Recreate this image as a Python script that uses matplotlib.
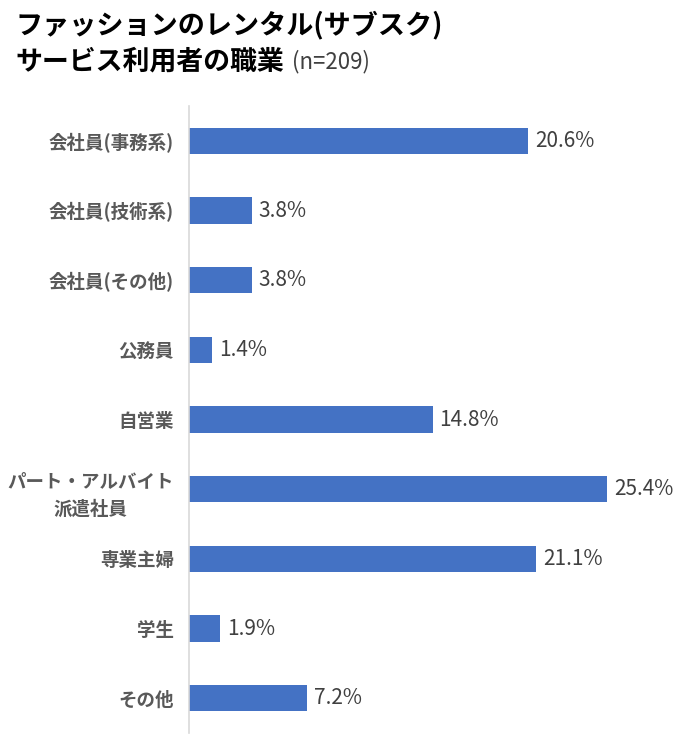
import matplotlib.pyplot as plt

plt.rcParams['font.family'] = ['Noto Sans CJK JP', 'DejaVu Sans']

# data
categories = ['会社員(事務系)', '会社員(技術系)', '会社員(その他)', '公務員', '自営業',
              'パート・アルバイト\n派遣社員', '専業主婦', '学生', 'その他']
shares = [20.6, 3.8, 3.8, 1.4, 14.8, 25.4, 21.1, 1.9, 7.2]
value_labels = ['20.6%', '3.8%', '3.8%', '1.4%', '14.8%', '25.4%', '21.1%', '1.9%', '7.2%']

fig = plt.figure(figsize=(7.0, 7.47), dpi=100)
ax = fig.add_axes([0.27, 0.0187, 0.73, 0.8394])

pos = list(range(len(categories)))
bars = ax.barh(pos, shares, height=0.38, color='#4472C4')
ax.set_ylim(len(categories) - 0.5, -0.5)
ax.set_xlim(0, 31.05)

for b, lab in zip(bars, value_labels):
    ax.annotate(lab, xy=(b.get_width(), b.get_y() + b.get_height() / 2),
                xytext=(5, 0), textcoords='offset points', va='center', ha='left',
                fontsize=15, color='#404040')

ax.set_yticks(pos)
ax.set_yticklabels(categories, fontsize=13.3, fontweight='bold', color='#595959')
for t in ax.get_yticklabels():
    t.set_multialignment('center')
    t.set_linespacing(1.55)
ax.tick_params(axis='y', length=0, pad=11)
ax.set_xticks([])
for s in ['top', 'right', 'bottom']:
    ax.spines[s].set_visible(False)
ax.spines['left'].set_color('#D9D9D9')
ax.spines['left'].set_linewidth(1.2)

# two-line title
fig.text(15 / 700, 1 - 25 / 747, 'ファッションのレンタル(サブスク)', fontsize=19.5, fontweight='bold',
         color='black', va='center', ha='left')
t2 = fig.text(15 / 700, 1 - 62 / 747, 'サービス利用者の職業', fontsize=19.4, fontweight='bold',
              color='black', va='center', ha='left')
ax.annotate('(n=209)', xy=(1, 0.5), xycoords=t2, xytext=(6, 0), textcoords='offset points',
            va='center', ha='left', fontsize=16, color='#404040')

fig.savefig('out.png', dpi=100)
